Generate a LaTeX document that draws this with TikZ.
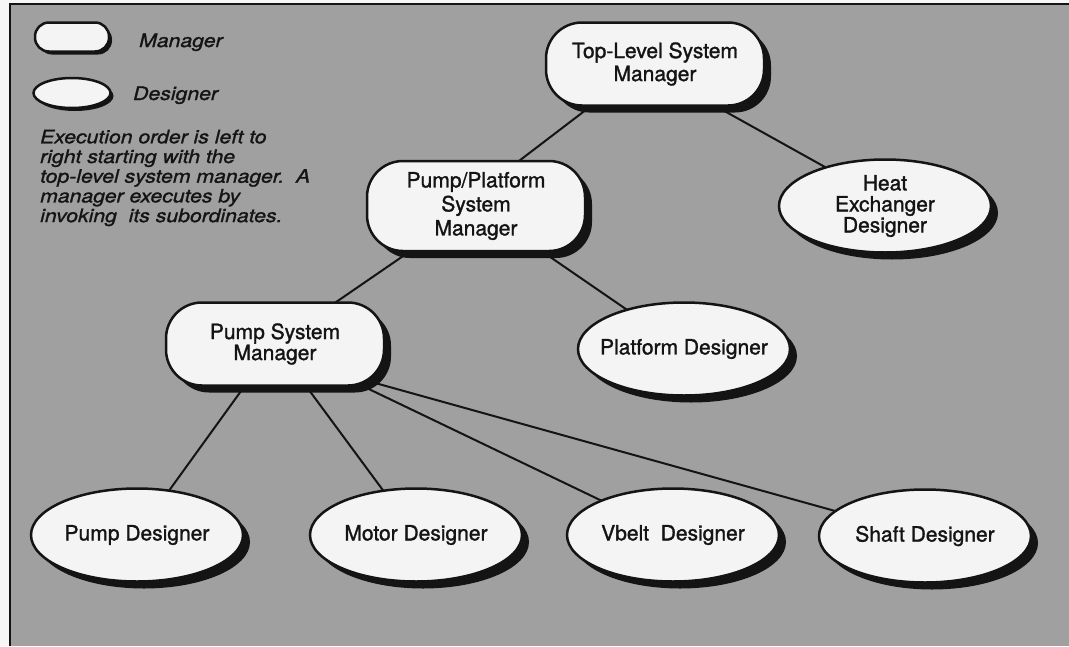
\documentclass[tikz,border=0pt]{standalone}
\usepackage{fontspec}
\setmainfont[FakeBold=1.4]{TeX Gyre Heros}
\newfontfamily\legendfont[FakeStretch=1.14, FakeBold=1.2]{TeX Gyre Heros}
\usetikzlibrary{shapes.geometric,shadows}
\pgfdeclarelayer{paper}
\pgfdeclarelayer{links}
\pgfsetlayers{paper,links,main}
\definecolor{paperbg}{RGB}{246,246,246}
\definecolor{screen}{RGB}{160,160,160}
\definecolor{ink}{RGB}{20,20,20}
\definecolor{boxfill}{RGB}{244,244,244}

\tikzset{
  every node/.style={font=\fontsize{21}{21}\selectfont, text=ink},
  bigshadow/.style={drop shadow={shadow xshift=7pt, shadow yshift=-7pt, opacity=1, fill=ink}},
  smallshadow/.style={drop shadow={shadow xshift=3pt, shadow yshift=-3pt, opacity=1, fill=ink}},
  mgr/.style={rectangle, rounded corners=36pt, draw=ink, line width=2.5pt,
    fill=boxfill, minimum width=218pt, minimum height=83pt, align=center,
    inner sep=0pt, font=\fontsize{21}{23}\selectfont, bigshadow},
  % pushes the lines of a manager's label down a little within its box
  lowertext/.style={execute at begin node={\rule{0pt}{#1}}},
  dsg/.style={ellipse, draw=ink, line width=2.5pt, fill=boxfill,
    minimum width=212pt, minimum height=93pt, align=center,
    inner xsep=-30pt, inner ysep=-10pt, bigshadow},
  mgrkey/.style={rectangle, rounded corners=14pt, draw=ink, line width=2.5pt,
    fill=boxfill, minimum width=74pt, minimum height=29pt, inner sep=0pt, smallshadow},
  dsgkey/.style={ellipse, draw=ink, line width=2.5pt, fill=boxfill,
    minimum width=77pt, minimum height=30pt, inner sep=0pt, smallshadow},
  keytext/.style={font=\legendfont\itshape\fontsize{18.6}{19.7}\selectfont, inner sep=0pt},
  link/.style={draw=ink, line width=2pt},
}

\begin{document}
\begin{tikzpicture}[x=1pt, y=-1pt]
  \useasboundingbox (0,0) rectangle (1069,646);

  % paper and the screened panel with its frame
  \begin{pgfonlayer}{paper}
    \fill[paperbg] (0,0) rectangle (1069,646);
    \fill[screen] (10,4) rectangle (1069,646);
    \draw[ink, line width=2pt] (10,646) -- (10,4) -- (1069,4);
  \end{pgfonlayer}

  % key
  \node[mgrkey] (keymgr) at (72,37) {};
  \node[dsgkey] (keydsg) at (72,93) {};
  \node[keytext, anchor=base west] (keymgrtext) at (139,47) {Manager};
  \node[keytext, anchor=base west] (keydsgtext) at (133,100) {Designer};
  \node[keytext, anchor=north west, align=left] (note) at (40,129.5)
    {Execution order is left to\\
     right starting with the\\
     top-level system manager.\ \ A\\
     manager executes by\\
     invoking\ \ its subordinates.};

  % hierarchy
  \node[mgr, lowertext=25pt] (toplevel) at (655,64) {Top-Level System\\Manager};
  \node[mgr, minimum height=90pt, font=\fontsize{21}{24}\selectfont] (pumpplat) at (476,206)
    {Pump/Platform\\System\\Manager};
  \node[dsg] (heatx) at (885,206) {Heat\\Exchanger\\Designer};
  \node[mgr, lowertext=22pt, font=\fontsize{21}{21}\selectfont] (pumpsys) at (275,344)
    {Pump System\\Manager};
  \node[dsg] (platform) at (684,349) {Platform Designer};
  \node[dsg] (pump) at (137,535) {Pump Designer};
  \node[dsg] (motor) at (416,535) {Motor Designer};
  \node[dsg] (vbelt) at (673,535) {Vbelt\ \ Designer};
  \node[dsg] (shaft) at (925,536) {Shaft Designer};

  % connectors, drawn beneath the nodes
  \begin{pgfonlayer}{links}
    \draw[link] ([xshift=-9pt]toplevel.center) -- ([xshift=-16pt]pumpplat.center);
    \draw[link] ([xshift=-15pt]toplevel.center) -- ([xshift=10pt]heatx.center);
    \draw[link] (pumpplat.center) -- (pumpsys.center);
    \draw[link] (pumpplat.center) -- (platform.center);
    \draw[link] (pumpsys.center) -- (pump.center);
    \draw[link] (pumpsys.center) -- (motor.center);
    \draw[link] (pumpsys.center) -- (vbelt.center);
    \draw[link] ([xshift=-40pt]pumpsys.center) -- (shaft.center);
  \end{pgfonlayer}
\end{tikzpicture}
\end{document}
